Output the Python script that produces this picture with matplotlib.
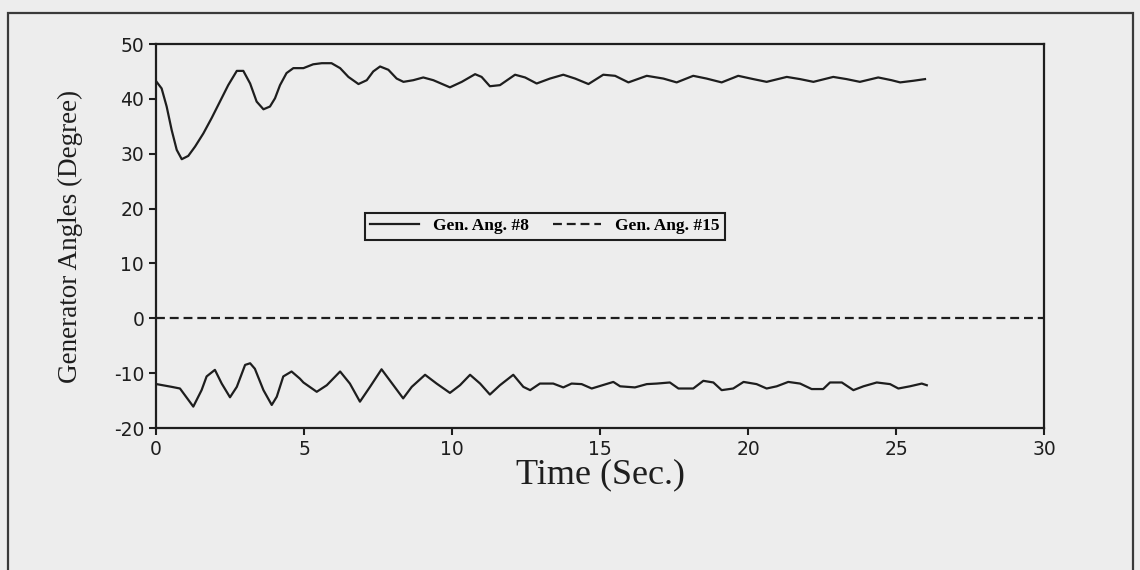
import matplotlib
matplotlib.use("Agg")
import matplotlib.pyplot as plt
from matplotlib.patches import Rectangle

# ---- data ----
t_gen8 = [0.02, 0.19, 0.36, 0.53, 0.70, 0.87, 1.09, 1.32, 1.60, 1.88, 2.16, 2.44, 2.73,
          2.95, 3.18, 3.40, 3.63, 3.85, 4.02, 4.19, 4.41, 4.64, 4.98, 5.31, 5.60, 5.93,
          6.22, 6.50, 6.84, 7.12, 7.34, 7.57, 7.85, 8.13, 8.36, 8.69, 9.03, 9.37, 9.93,
          10.33, 10.78, 11.00, 11.28, 11.62, 12.13, 12.47, 12.86, 13.31, 13.76, 14.16,
          14.61, 15.11, 15.51, 15.96, 16.58, 17.14, 17.59, 18.15, 18.60, 19.11, 19.67,
          20.18, 20.63, 21.31, 21.76, 22.21, 22.88, 23.33, 23.78, 24.40, 24.85, 25.14,
          25.59, 25.98]
y_gen8 = [43.1, 41.9, 38.6, 34.3, 30.7, 29.0, 29.6, 31.3, 33.7, 36.5, 39.5, 42.5, 45.1,
          45.1, 42.8, 39.5, 38.1, 38.6, 40.1, 42.5, 44.7, 45.6, 45.6, 46.3, 46.5, 46.5,
          45.6, 44.0, 42.7, 43.4, 45.0, 45.9, 45.3, 43.7, 43.1, 43.4, 43.9, 43.4, 42.1,
          43.1, 44.5, 44.0, 42.3, 42.5, 44.4, 43.9, 42.8, 43.7, 44.4, 43.7,
          42.7, 44.4, 44.2, 43.0, 44.2, 43.7, 43.0, 44.2, 43.7, 43.0, 44.2,
          43.6, 43.1, 44.0, 43.6, 43.1, 44.0, 43.6, 43.1, 43.9, 43.4, 43.0,
          43.3, 43.6]

t_low = [0.02, 0.53, 0.81, 1.26, 1.54, 1.71, 1.99, 2.22, 2.50, 2.73, 3.01, 3.18, 3.34,
         3.63, 3.91, 4.08, 4.30, 4.58, 4.86, 4.98, 5.43, 5.77, 6.22, 6.55, 6.89, 7.23,
         7.62, 8.02, 8.35, 8.64, 9.09, 9.48, 9.93, 10.27, 10.61, 10.95, 11.28, 11.62,
         12.07, 12.41, 12.64, 12.97, 13.08, 13.42, 13.76, 14.04, 14.38, 14.72, 15.45,
         15.68, 16.18, 16.58, 16.92, 17.36, 17.65, 18.15, 18.49, 18.83, 19.11, 19.50,
         19.85, 20.29, 20.63, 20.97, 21.36, 21.76, 22.15, 22.54, 22.77, 23.17, 23.56,
         23.90, 24.35, 24.80, 25.08, 25.47, 25.87, 26.04]
y_low = [-12.0, -12.5, -12.8, -16.1, -13.1, -10.6, -9.4, -11.9, -14.4, -12.5, -8.5, -8.2, -9.2,
         -13.1, -15.8, -14.3, -10.6, -9.7, -11.0, -11.7, -13.4, -12.2, -9.7, -11.9, -15.2, -12.5,
         -9.3, -12.2, -14.6, -12.5, -10.3, -11.9, -13.6, -12.2, -10.3, -11.9, -13.9, -12.2,
         -10.3, -12.5, -13.1, -11.9, -11.9, -11.9, -12.6, -11.9, -12.0, -12.8, -11.6,
         -12.4, -12.6, -12.0, -11.9, -11.7, -12.8, -12.8, -11.4, -11.7, -13.1, -12.8,
         -11.6, -12.0, -12.8, -12.4, -11.6, -11.9, -12.9, -12.9, -11.7, -11.7, -13.1,
         -12.4, -11.7, -12.0, -12.8, -12.4, -11.9, -12.2]

t_gen15 = [0, 30]
y_gen15 = [0, 0]

x_ticks = [0, 5, 10, 15, 20, 25, 30]
x_labels = ["0", "5", "10", "15", "20", "25", "30"]
y_ticks = [-20, -10, 0, 10, 20, 30, 40, 50]
y_labels = ["-20", "-10", "0", "10", "20", "30", "40", "50"]

bg = "#ededed"
ink = "#1e1e1e"

fig = plt.figure(figsize=(11.4, 5.7), dpi=100, facecolor=bg)
ax = fig.add_axes([156/1140, 1-428/570, (1044-156)/1140, (428-44)/570])
ax.set_facecolor(bg)

ax.plot(t_gen8, y_gen8, color=ink, lw=1.6, label="Gen. Ang. #8")
ax.plot(t_gen15, y_gen15, color=ink, lw=1.6, dashes=(4, 2.2), label="Gen. Ang. #15")
ax.plot(t_low, y_low, color=ink, lw=1.6, label="_nolegend_")

ax.set_xlim(0, 30)
ax.set_ylim(-20, 50)
ax.set_xticks(x_ticks)
ax.set_xticklabels(x_labels)
ax.set_yticks(y_ticks)
ax.set_yticklabels(y_labels)
ax.tick_params(direction="out", length=5, width=1.5, colors=ink, labelsize=13.5,
               top=False, right=False)
for lab in ax.get_xticklabels() + ax.get_yticklabels():
    lab.set_fontfamily("DejaVu Sans")
for s in ax.spines.values():
    s.set_linewidth(1.6)
    s.set_color(ink)

ax.set_xlabel("Time (Sec.)", family="Liberation Serif", fontsize=26, color=ink, labelpad=0)
ax.set_ylabel("Generator Angles (Degree)", family="Liberation Serif", fontsize=19.5,
              color=ink, labelpad=22)

leg = ax.legend(loc="center", bbox_to_anchor=(0.438, 0.525), ncol=2, frameon=True,
                fancybox=False, edgecolor=ink, facecolor=bg, framealpha=1,
                prop={"family": "Liberation Serif", "weight": "bold", "size": 12.5},
                handlelength=2.8, columnspacing=1.4, handletextpad=0.8,
                borderpad=0.3)
leg.get_frame().set_linewidth(1.5)

# outer frame of the figure
fig.patches.append(Rectangle((8/1140, -0.02), (1133-8)/1140, 1.02-13/570,
                             transform=fig.transFigure, fill=False,
                             edgecolor="#3a3a3a", lw=1.6))

fig.savefig("out.png", dpi=100, facecolor=bg)
